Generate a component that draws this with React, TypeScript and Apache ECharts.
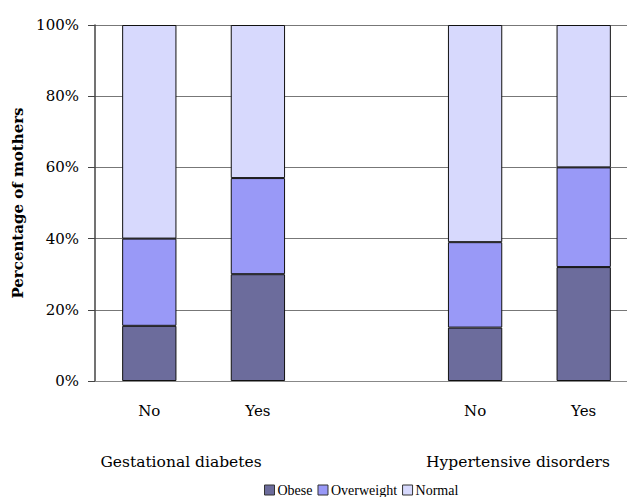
import React, { useEffect, useRef } from "react";
import * as echarts from "echarts";

const categories = ["No", "Yes", "", "No", "Yes"];
const groupLabels = ["Gestational diabetes", "Hypertensive disorders"];
const obese = [15.5, 30, null, 15, 32];
const overweight = [24.5, 27, null, 24, 28];
const normal = [60, 43, null, 61, 40];
const yTicks = [0, 20, 40, 60, 80, 100];

const FONT = "DejaVu Serif";

export default function App() {
  const ref = useRef<HTMLDivElement>(null);
  useEffect(() => {
    if (!ref.current) return;
    const chart = echarts.init(ref.current, undefined, { renderer: "svg" });
    const barBase = {
      type: "bar",
      stack: "total",
      barWidth: "50%",
      itemStyle: { borderColor: "#111", borderWidth: 1 },
    };
    chart.setOption({
      animation: false,
      textStyle: { fontFamily: FONT },
      grid: { left: 95, top: 25, width: 543, height: 356, containLabel: false },
      legend: {
        data: ["Obese", "Overweight", "Normal"],
        left: 264,
        top: 483,
        padding: 0,
        itemWidth: 10,
        itemHeight: 10,
        itemGap: 5,
        itemStyle: { borderColor: "#333", borderWidth: 1 },
        textStyle: { fontFamily: "Liberation Serif", fontSize: 14, color: "#000", padding: [0, 0, 0, -2] },
        icon: "rect",
      },
      xAxis: {
        type: "category",
        data: categories,
        axisLine: { lineStyle: { color: "#888", width: 1 } },
        axisTick: { show: false },
        axisLabel: { color: "#000", fontSize: 15, margin: 22, fontFamily: FONT },
      },
      yAxis: {
        type: "value",
        min: yTicks[0],
        max: yTicks[yTicks.length - 1],
        interval: 20,
        name: "Percentage of mothers",
        nameLocation: "middle",
        nameGap: 65,
        nameTextStyle: { fontWeight: "bold", fontSize: 15, color: "#000", fontFamily: FONT },
        axisLine: { show: true, lineStyle: { color: "#444", width: 1.5 } },
        axisTick: { show: true, length: 7, lineStyle: { color: "#444" } },
        axisLabel: { formatter: "{value}%", color: "#000", fontSize: 15, margin: 16, fontFamily: FONT },
        splitLine: { show: true, lineStyle: { color: "#777", width: 1 } },
      },
      series: [
        { ...barBase, name: "Obese", data: obese, itemStyle: { ...barBase.itemStyle, color: "#6c6c9c" } },
        { ...barBase, name: "Overweight", data: overweight, itemStyle: { ...barBase.itemStyle, color: "#9999f7" } },
        { ...barBase, name: "Normal", data: normal, itemStyle: { ...barBase.itemStyle, color: "#d7d9fd" } },
      ],
      graphic: [
        {
          type: "text",
          x: 181,
          y: 462,
          style: { text: groupLabels[0], fill: "#000", font: `15.5px "${FONT}"`, textAlign: "center", textVerticalAlign: "middle" },
        },
        {
          type: "text",
          x: 518,
          y: 462,
          style: { text: groupLabels[1], fill: "#000", font: `15.5px "${FONT}"`, textAlign: "center", textVerticalAlign: "middle" },
        },
      ],
    });
    return () => chart.dispose();
  }, []);
  return (
    <div style={{ position: "absolute", left: 0, top: 0, width: 627, height: 497, overflow: "hidden" }}>
      <div ref={ref} style={{ width: 660, height: 497 }} />
    </div>
  );
}
